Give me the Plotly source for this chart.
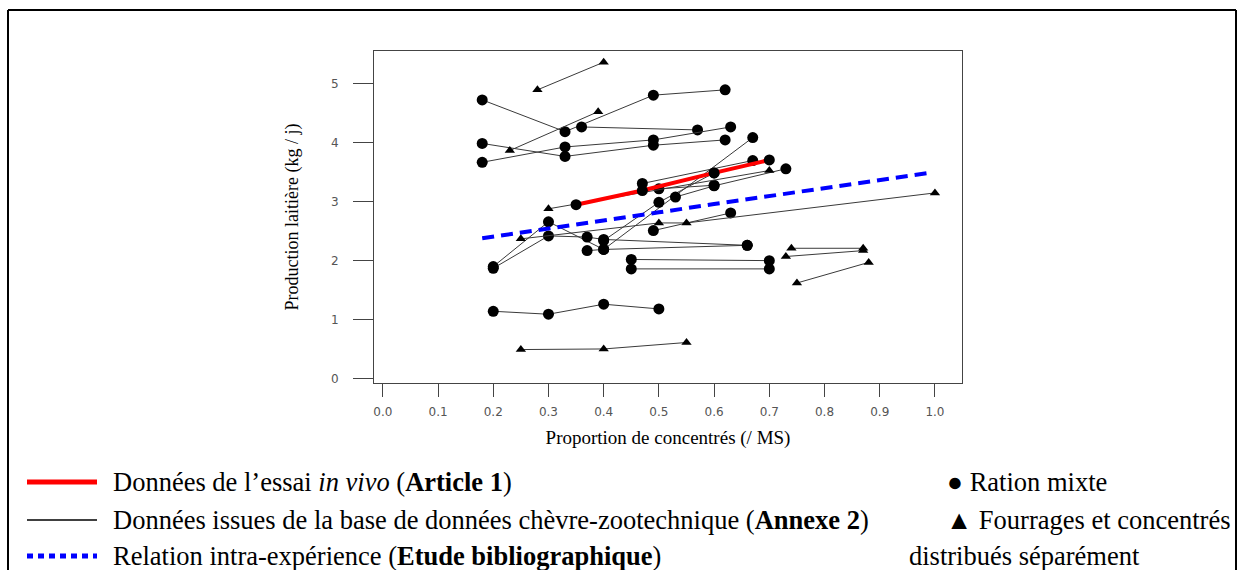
import plotly.graph_objects as go

# Essai in vivo (Article 1)
essai_x = [0.35, 0.47, 0.60, 0.70]
essai_y = [2.95, 3.19, 3.49, 3.71]

# Base de données chèvre-zootechnique : ration mixte (cercles)
mixte_x = [
    [0.18, 0.33, 0.49, 0.62],
    [0.36, 0.57],
    [0.18, 0.33, 0.49, 0.63],
    [0.18, 0.33, 0.49, 0.62],
    [0.20, 0.30, 0.40, 0.66],
    [0.20, 0.30, 0.37, 0.40, 0.66],
    [0.37, 0.40, 0.67],
    [0.40, 0.50, 0.60],
    [0.47, 0.67],
    [0.53, 0.60, 0.73],
    [0.50, 0.60],
    [0.49, 0.63],
    [0.45, 0.70],
    [0.45, 0.70],
    [0.20, 0.30, 0.40, 0.50],
]
mixte_y = [
    [4.73, 4.19, 4.81, 4.90],
    [4.27, 4.22],
    [3.67, 3.93, 4.05, 4.27],
    [3.99, 3.77, 3.96, 4.05],
    [1.90, 2.66, 2.19, 2.26],
    [1.87, 2.42, 2.40, 2.36, 2.26],
    [2.17, 2.19, 4.09],
    [2.34, 2.99, 3.49],
    [3.31, 3.70],
    [3.08, 3.27, 3.56],
    [3.22, 3.28],
    [2.51, 2.81],
    [2.02, 2.00],
    [1.86, 1.86],
    [1.14, 1.09, 1.26, 1.18],
]

# Fourrages et concentrés distribués séparément (triangles)
separe_x = [
    [0.28, 0.40],
    [0.23, 0.39],
    [0.30, 0.70],
    [0.25, 0.50, 0.55, 1.00],
    [0.74, 0.87],
    [0.73, 0.87],
    [0.75, 0.88],
    [0.25, 0.40, 0.55],
]
separe_y = [
    [4.90, 5.37],
    [3.87, 4.53],
    [2.88, 3.53],
    [2.37, 2.64, 2.64, 3.15],
    [2.21, 2.21],
    [2.07, 2.17],
    [1.62, 1.97],
    [0.49, 0.50, 0.61],
]

# Relation intra-expérience (étude bibliographique)
biblio_x = [0.18, 0.30, 0.40, 0.50, 0.60, 0.70, 0.80, 0.90, 0.99]
biblio_y = [2.38, 2.54, 2.68, 2.82, 2.96, 3.10, 3.24, 3.37, 3.49]

x_ticks = [0.0, 0.1, 0.2, 0.3, 0.4, 0.5, 0.6, 0.7, 0.8, 0.9, 1.0]
y_ticks = [0, 1, 2, 3, 4, 5]

W, H = 1245, 570
L, R, T, B = 374, 962, 51, 383


def px(x):
    return (x - L) / (R - L)


def py(y):
    return (B - y) / (B - T)


fig = go.Figure()

for xs, ys in zip(mixte_x, mixte_y):
    fig.add_trace(go.Scatter(
        x=xs, y=ys, mode="lines+markers",
        line=dict(color="#3a3a3a", width=1),
        marker=dict(symbol="circle", size=11, color="black"),
        showlegend=False,
    ))

for xs, ys in zip(separe_x, separe_y):
    fig.add_trace(go.Scatter(
        x=xs, y=ys, mode="lines+markers",
        line=dict(color="#3a3a3a", width=1),
        marker=dict(symbol="triangle-up", size=9, color="black"),
        showlegend=False,
    ))

fig.add_trace(go.Scatter(
    x=biblio_x, y=biblio_y, mode="lines",
    line=dict(color="#0000ff", width=4, dash="12px,7px"),
    showlegend=False,
))

fig.add_trace(go.Scatter(
    x=essai_x, y=essai_y, mode="lines+markers",
    line=dict(color="#ff0000", width=4),
    marker=dict(symbol="circle", size=11, color="black"),
    showlegend=False,
))

fig.update_xaxes(
    range=[-0.016, 1.049], tickvals=x_ticks,
    ticktext=[f"{v:.1f}" for v in x_ticks],
    showgrid=False, zeroline=False,
    showline=True, mirror=True, linecolor="#444", linewidth=1,
    ticks="outside", ticklen=13, tickcolor="#444",
    ticklabelstandoff=5,
    tickfont=dict(family="DejaVu Sans", size=12, color="#555"),
    title=dict(text="Proportion de concentrés (/ MS)",
               font=dict(family="Liberation Serif", size=19, color="black"),
               standoff=12),
)
fig.update_yaxes(
    range=[-0.078, 5.56], tickvals=y_ticks,
    showgrid=False, zeroline=False,
    showline=True, mirror=True, linecolor="#444", linewidth=1,
    ticks="outside", ticklen=20, tickcolor="#444",
    ticklabelstandoff=12,
    tickfont=dict(family="DejaVu Sans", size=12, color="#555"),
    title=dict(text="Production laitière (kg / j)",
               font=dict(family="Liberation Serif", size=18, color="black"),
               standoff=27),
)

shapes = [
    # cadre extérieur
    dict(type="line", xref="paper", yref="paper", x0=px(8), x1=px(8), y0=py(10), y1=py(580),
         line=dict(color="black", width=2)),
    dict(type="line", xref="paper", yref="paper", x0=px(8), x1=px(1236), y0=py(10), y1=py(10),
         line=dict(color="black", width=2)),
    dict(type="line", xref="paper", yref="paper", x0=px(1236), x1=px(1236), y0=py(10), y1=py(580),
         line=dict(color="black", width=2)),
    # légende
    dict(type="line", xref="paper", yref="paper", x0=px(27), x1=px(97), y0=py(482), y1=py(482),
         line=dict(color="#ff0000", width=5)),
    dict(type="line", xref="paper", yref="paper", x0=px(27), x1=px(97), y0=py(520), y1=py(520),
         line=dict(color="black", width=1.5)),
    dict(type="line", xref="paper", yref="paper", x0=px(27), x1=px(97), y0=py(556), y1=py(556),
         line=dict(color="#0000ff", width=5, dash="6px,5px")),
]

legend_font = dict(family="Liberation Serif", size=26.5, color="black")
texts = [
    (111, 482, "Données de l’essai <i>in vivo</i> (<b>Article 1</b>)"),
    (111, 520, "Données issues de la base de données chèvre-zootechnique (<b>Annexe 2</b>)"),
    (111, 556, "Relation intra-expérience (<b>Etude bibliographique</b>)"),
    (945, 482, "● Ration mixte"),
    (944, 520, "▲ Fourrages et concentrés"),
    (907, 556, "distribués séparément"),
]
annotations = [
    dict(x=px(x0), y=py(y0), xref="paper", yref="paper", text=t, showarrow=False,
         xanchor="left", yanchor="middle", font=legend_font)
    for x0, y0, t in texts
]

fig.update_layout(
    width=W, height=H,
    margin=dict(l=L, r=W - R, t=T, b=H - B),
    paper_bgcolor="white", plot_bgcolor="white",
    shapes=shapes, annotations=annotations,
    showlegend=False,
)

fig.write_html("out.html", config={"displayModeBar": False},
               post_script="document.body.style.margin='0';")
